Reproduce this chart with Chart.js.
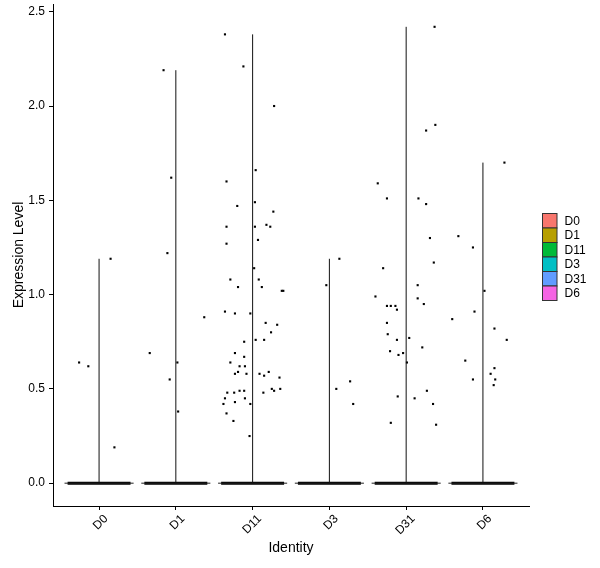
<!DOCTYPE html>
<html>
<head>
<meta charset="utf-8">
<script src="https://cdn.jsdelivr.net/npm/chart.js@4.4.1/dist/chart.umd.min.js"></script>
<style>
  html, body { margin: 0; padding: 0; background: #fff; }
  canvas { display: block; }
</style>
</head>
<body>
<canvas id="vln" width="600" height="568"></canvas>
<script>
// groups and legend colours (ggplot hue palette)
const categories = ['D0', 'D1', 'D11', 'D3', 'D31', 'D6'];
const fillColors = ['#F8766D', '#B79F00', '#00BA38', '#00BFC4', '#619CFF', '#F564E3'];
const yTicks = [0, 0.5, 1.0, 1.5, 2.0, 2.5];

// non-zero expression values per group, with the jitter offset read for each point
const exprD0 = [0.64, 0.62, 0.19, 1.19];
const jitterD0 = [-0.26, -0.14, 0.20, 0.15];

const exprD1 = [2.19, 1.62, 1.22, 0.69, 0.55, 0.64, 0.38, 0.88];
const jitterD1 = [-0.16, -0.06, -0.11, -0.34, -0.08, 0.02, 0.03, 0.37];

const exprD11 = [2.38, 2.21, 2.00, 1.66, 1.60, 1.49, 1.47, 1.44, 1.36, 1.36, 1.37, 1.36, 1.29, 1.27,
  1.14, 1.08, 1.08, 1.04, 1.04, 1.02, 1.02, 0.91, 0.90, 0.90, 0.85, 0.84, 0.80, 0.76, 0.76, 0.75,
  0.69, 0.67, 0.64, 0.62, 0.62, 0.58, 0.59, 0.58, 0.58, 0.57, 0.59, 0.56, 0.48, 0.48, 0.49, 0.49,
  0.48, 0.50, 0.49, 0.50, 0.45, 0.45, 0.43, 0.42, 0.42, 0.37, 0.33, 0.25];
const jitterD11 = [-0.36, -0.12, 0.28, 0.04, -0.34, 0.03, -0.20, 0.27, -0.34, 0.03, 0.18, 0.23, 0.07, -0.34,
  0.02, -0.29, 0.08, -0.19, 0.12, 0.38, 0.40, -0.36, -0.23, -0.03, 0.17, 0.32, 0.24, 0.04, 0.15, -0.11,
  -0.23, -0.11, -0.29, -0.17, -0.10, -0.23, -0.19, -0.08, 0.09, 0.15, 0.21, 0.35, -0.33, -0.24, -0.17, -0.11,
  0.14, 0.25, 0.28, 0.36, -0.36, -0.10, -0.23, -0.38, -0.03, -0.34, -0.25, -0.04];

const exprD3 = [1.19, 1.05, 0.54, 0.50, 0.42];
const jitterD3 = [0.13, -0.04, 0.27, 0.09, 0.31];

const exprD31 = [2.42, 1.90, 1.87, 1.59, 1.51, 1.51, 1.48, 1.30, 1.17, 1.14, 1.05, 0.99, 0.98, 0.95,
  0.94, 0.94, 0.94, 0.92, 0.85, 0.79, 0.76, 0.77, 0.72, 0.70, 0.69, 0.68, 0.64, 0.49, 0.46, 0.45,
  0.42, 0.32, 0.31];
const jitterD31 = [0.37, 0.38, 0.26, -0.37, -0.25, 0.16, 0.26, 0.31, 0.36, -0.30, 0.15, -0.40, 0.15, 0.23,
  -0.25, -0.20, -0.14, -0.12, -0.25, -0.24, -0.12, 0.04, 0.21, -0.21, -0.04, -0.10, 0.01, 0.27, -0.11, 0.11,
  0.35, -0.20, 0.39];

const exprD6 = [1.70, 1.31, 1.25, 1.02, 0.91, 0.87, 0.82, 0.76, 0.65, 0.61, 0.58, 0.55, 0.55, 0.52];
const jitterD6 = [0.28, -0.32, -0.13, 0.02, -0.11, -0.40, 0.15, 0.31, -0.23, 0.15, 0.10, 0.16, -0.13, 0.14];

const exprValues = [exprD0, exprD1, exprD11, exprD3, exprD31, exprD6];
const jitterValues = [jitterD0, jitterD1, jitterD11, jitterD3, jitterD31, jitterD6];

const FONT = '"Liberation Sans", Arial, sans-serif';
const VIOLIN_HALF = 0.45;
const JITTER_HALF = 0.41;

// y range like ggplot: data 0..max, expanded 5% each side
const allMax = Math.max(...exprValues.flat());
const yPad = allMax * 0.05;

const datasets = [];
categories.forEach((cat, i) => {
  const pos = i + 1;
  const top = Math.max(...exprValues[i]);
  // collapsed violin: spike up to the max, flat at zero
  datasets.push({
    data: [{ x: pos, y: 0 }, { x: pos, y: top }],
    showLine: true, borderColor: '#111', borderWidth: 1, pointRadius: 0
  });
  datasets.push({
    data: [{ x: pos - VIOLIN_HALF, y: 0 }, { x: pos + VIOLIN_HALF, y: 0 }],
    showLine: true, borderColor: '#222', borderWidth: 1, pointRadius: 0
  });
  // the many zero cells, jittered into a thick bar
  datasets.push({
    data: [{ x: pos - JITTER_HALF, y: 0 }, { x: pos + JITTER_HALF, y: 0 }],
    showLine: true, borderColor: '#000', borderWidth: 3, pointRadius: 0
  });
  datasets.push({
    data: exprValues[i].map((v, k) => ({ x: pos + jitterValues[i][k], y: v })),
    showLine: false, pointStyle: 'rect', pointRadius: 1.5,
    backgroundColor: '#000', borderWidth: 0
  });
});

// rotated x labels and the fill legend, drawn by hand
const extrasPlugin = {
  id: 'extras',
  afterDraw(chart) {
    const ctx = chart.ctx;
    const xs = chart.scales.x;
    const area = chart.chartArea;
    ctx.save();
    ctx.fillStyle = '#000';
    ctx.font = '12px ' + FONT;
    categories.forEach((cat, i) => {
      const px = xs.getPixelForValue(i + 1);
      ctx.save();
      ctx.translate(px + 7, area.bottom + 11);
      ctx.rotate(-Math.PI / 4);
      ctx.textAlign = 'right';
      ctx.textBaseline = 'middle';
      ctx.fillText(cat, 0, 0);
      ctx.restore();
    });

    const lx = area.right + 13.5;
    const ly = 213.5;
    const box = 14.5;
    categories.forEach((cat, i) => {
      const y = ly + i * box;
      ctx.fillStyle = fillColors[i];
      ctx.fillRect(lx, y, box, box);
      ctx.strokeStyle = '#333';
      ctx.lineWidth = 1;
      ctx.strokeRect(lx, y, box, box);
      ctx.fillStyle = '#000';
      ctx.textAlign = 'left';
      ctx.textBaseline = 'middle';
      ctx.fillText(cat, lx + box + 7.5, y + box / 2 + 0.5);
    });
    ctx.restore();
  }
};

new Chart(document.getElementById('vln'), {
  type: 'scatter',
  data: { datasets },
  plugins: [extrasPlugin],
  options: {
    responsive: false,
    animation: false,
    layout: { padding: { top: 3, right: 71, left: 0, bottom: 0 } },
    plugins: { legend: { display: false }, tooltip: { enabled: false } },
    scales: {
      x: {
        type: 'linear',
        min: 0.4,
        max: categories.length + 0.6,
        afterBuildTicks: (s) => { s.ticks = categories.map((c, i) => ({ value: i + 1 })); },
        afterFit: (s) => { s.height = 62; s.paddingLeft = 0; s.paddingRight = 0; },
        grid: { drawOnChartArea: false, drawTicks: true, tickLength: 4, color: '#000' },
        border: { display: true, color: '#000', width: 1 },
        ticks: { display: false },
        title: {
          display: true, text: 'Identity', color: '#000',
          font: { family: FONT, size: 14 }, padding: { top: 0, bottom: 11 }
        }
      },
      y: {
        min: -yPad,
        max: allMax + yPad,
        afterBuildTicks: (s) => { s.ticks = yTicks.map(v => ({ value: v })); },
        afterFit: (s) => { s.width = 53; s.paddingTop = 0; s.paddingBottom = 0; },
        grid: { drawOnChartArea: false, drawTicks: true, tickLength: 4, color: '#000' },
        border: { display: true, color: '#000', width: 1 },
        ticks: {
          color: '#000', padding: 4,
          font: { family: FONT, size: 12 },
          callback: (v) => Number(v).toFixed(1)
        },
        title: {
          display: true, text: 'Expression Level', color: '#000',
          font: { family: FONT, size: 14 }, padding: { top: 10.5, bottom: 0 }
        }
      }
    }
  }
});
</script>
</body>
</html>
